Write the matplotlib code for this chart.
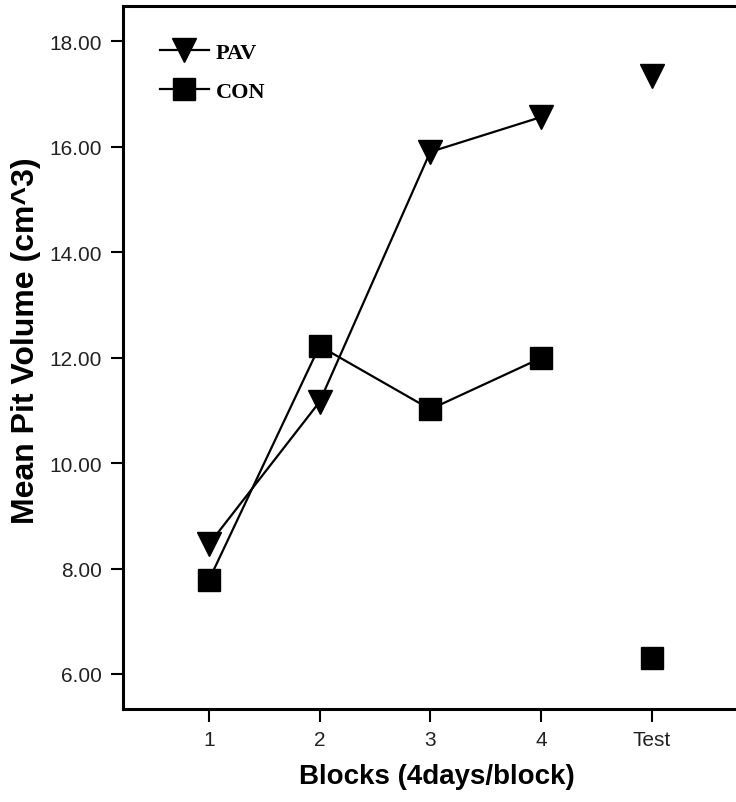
import matplotlib
matplotlib.use("Agg")
import matplotlib.pyplot as plt
from matplotlib.lines import Line2D

# block means (cm^3)
blocks = [1, 2, 3, 4]
pav = [8.46, 11.16, 15.9, 16.56]
con = [7.78, 12.22, 11.02, 11.99]
test_x = 5
pav_test = 17.34
con_test = 6.30
xtick_labels = ['1', '2', '3', '4', 'Test']
yticks = [6, 8, 10, 12, 14, 16, 18]

plt.rcParams['font.family'] = ['Liberation Sans', 'DejaVu Sans']

fig = plt.figure(figsize=(7.36, 8.03), dpi=100)
ax = fig.add_axes([0.167, 0.1158, 0.853, 0.875])

ax.plot(blocks, pav, color='black', lw=1.6, marker='v', ms=17, zorder=3)
ax.plot(blocks, con, color='black', lw=1.6, marker='s', ms=15.5, zorder=3)
ax.plot([test_x], [pav_test], color='black', ls='none', marker='v', ms=17)
ax.plot([test_x], [con_test], color='black', ls='none', marker='s', ms=15.5)

ax.set_xlim(0.223, 5.896)
ax.set_ylim(5.336, 18.66)
ax.set_xticks([1, 2, 3, 4, 5])
ax.set_xticklabels(xtick_labels)
ax.set_yticks(yticks)
ax.set_yticklabels(['%.2f' % v for v in yticks])
ax.tick_params(axis='both', direction='out', length=9, width=1.5,
               labelsize=15, labelcolor='#222222', pad=6)

for side in ['left', 'bottom', 'top', 'right']:
    ax.spines[side].set_linewidth(2.2)

ax.set_xlabel('Blocks (4days/block)', fontsize=20, fontweight='bold', labelpad=10)
ax.set_ylabel('Mean Pit Volume (cm^3)', fontsize=23, fontweight='bold')
ax.yaxis.set_label_coords(-0.13, 0.525)

handles = [Line2D([], [], color='black', lw=1.6, marker='v', ms=17),
           Line2D([], [], color='black', lw=1.6, marker='s', ms=15.5)]
leg = ax.legend(handles, ['PAV', 'CON'], loc='upper left', frameon=False,
                prop={'family': 'Liberation Serif', 'weight': 'bold', 'size': 16},
                handlelength=2.2, handletextpad=0.3, labelspacing=0.85,
                bbox_to_anchor=(0.045, 0.962), borderaxespad=0)

fig.savefig('out.png', dpi=100)
